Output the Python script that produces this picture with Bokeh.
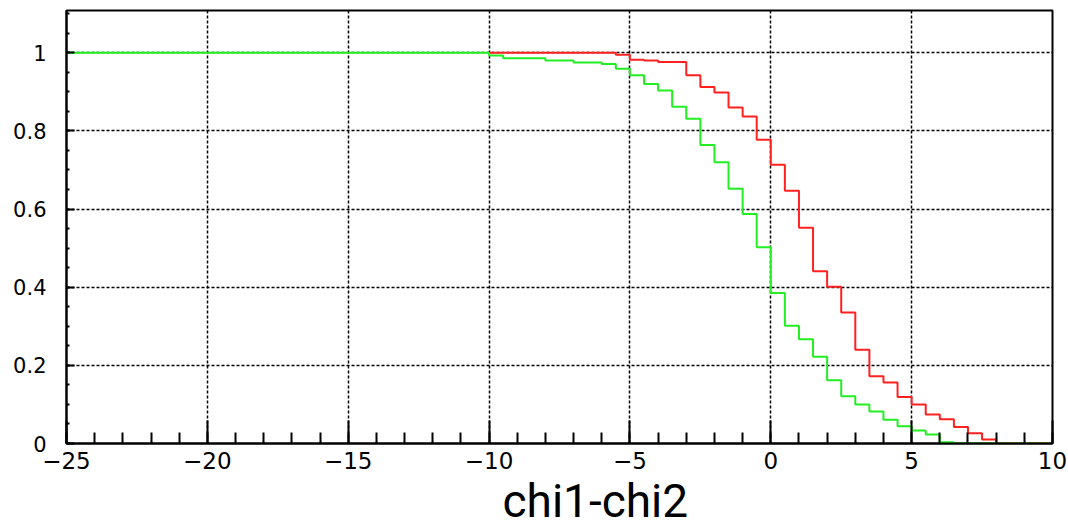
from bokeh.plotting import figure
from bokeh.models import FixedTicker, Range1d, Title
from bokeh.embed import file_html
from bokeh.resources import INLINE

# step start positions (mode="after") and values
red_x = [-10, -5.5, -5.0, -4.5, -4.0, -3.5, -3.0, -2.5, -2.0, -1.5, -1.0, -0.5,
         0.0, 0.5, 1.0, 1.5, 2.0, 2.5, 3.0, 3.5, 4.0, 4.5, 5.0, 5.5, 6.0, 6.5,
         7.0, 7.5, 8.0, 10.0]
red_y = [1.0, 0.995, 0.982, 0.980, 0.976, 0.976, 0.942, 0.912, 0.898, 0.860, 0.837, 0.777,
         0.713, 0.647, 0.552, 0.441, 0.401, 0.335, 0.240, 0.172, 0.156, 0.119, 0.100, 0.074,
         0.062, 0.042, 0.026, 0.010, 0.0, 0.0]

green_x = [-25, -25, -10, -9.5, -8.0, -7.0, -6.0, -5.5, -5.0, -4.5, -4.0, -3.5, -3.0,
           -2.5, -2.0, -1.5, -1.0, -0.5, 0.0, 0.5, 1.0, 1.5, 2.0, 2.5, 3.0, 3.5,
           4.0, 4.5, 5.0, 5.5, 6.0, 6.5, 10.0]
green_y = [0.0, 1.0, 0.993, 0.986, 0.980, 0.975, 0.971, 0.959, 0.942, 0.920, 0.903, 0.862, 0.831,
           0.764, 0.720, 0.652, 0.587, 0.502, 0.385, 0.301, 0.267, 0.222, 0.162, 0.121, 0.100, 0.082,
           0.061, 0.044, 0.033, 0.023, 0.003, 0.0, 0.0]

x_ticks = [-25, -20, -15, -10, -5, 0, 5, 10]
x_tick_labels = ["\u221225", "\u221220", "\u221215", "\u221210", "\u22125", "0", "5", "10"]
x_minor = list(range(-25, 11))
y_ticks = [0, 0.2, 0.4, 0.6, 0.8, 1.0]
y_tick_labels = ["0", "0.2", "0.4", "0.6", "0.8", "1"]
y_minor = [i * 0.05 for i in range(0, 23)]

x_title = "chi1-chi2"

p = figure(width=1068, height=528, output_backend="svg", toolbar_location=None,
           x_range=Range1d(-25, 10), y_range=Range1d(0, 1.108),
           min_border_left=66, min_border_right=16, min_border_top=10, min_border_bottom=85)
p.background_fill_color = "white"
p.border_fill_color = "white"
p.outline_line_color = "black"
p.outline_line_width = 2

p.xaxis.ticker = FixedTicker(ticks=x_ticks, minor_ticks=x_minor)
p.yaxis.ticker = FixedTicker(ticks=y_ticks, minor_ticks=y_minor)
p.xaxis.major_label_overrides = {t: l for t, l in zip(x_ticks, x_tick_labels)}
p.yaxis.major_label_overrides = {t: l for t, l in zip(y_ticks, y_tick_labels)}

for ax in (p.xaxis, p.yaxis):
    ax.axis_line_color = "black"
    ax.axis_line_width = 2
    ax.major_tick_line_color = "black"
    ax.minor_tick_line_color = "black"
    ax.major_tick_line_width = 2
    ax.minor_tick_line_width = 2
    ax.major_tick_out = 0
    ax.minor_tick_out = 0
    ax.major_label_text_color = "black"
    ax.major_label_text_font = "DejaVu Sans"

p.xaxis.major_tick_in = 23
p.xaxis.minor_tick_in = 11
p.xaxis.major_label_standoff = 8
p.xaxis.major_label_text_font_size = "23px"
p.yaxis.major_tick_in = 8
p.yaxis.minor_tick_in = 3
p.yaxis.major_label_standoff = 20
p.yaxis.major_label_text_font_size = "21px"

p.xgrid.grid_line_color = "black"
p.ygrid.grid_line_color = "black"
p.xgrid.grid_line_dash = "3 2"
p.ygrid.grid_line_dash = "3 2"
p.xgrid.grid_line_width = 1.5
p.ygrid.grid_line_width = 1.5

p.step(red_x, red_y, mode="after", line_color="#ff2020", line_width=2)
p.step(green_x, green_y, mode="after", line_color="#22ee22", line_width=2)

t = Title(text=x_title, align="left", offset=436, standoff=0,
          text_font="Roboto", text_font_size="46px", text_font_style="normal",
          text_color="black")
p.add_layout(t, "below")

open("out.html", "w").write(file_html(p, INLINE))
